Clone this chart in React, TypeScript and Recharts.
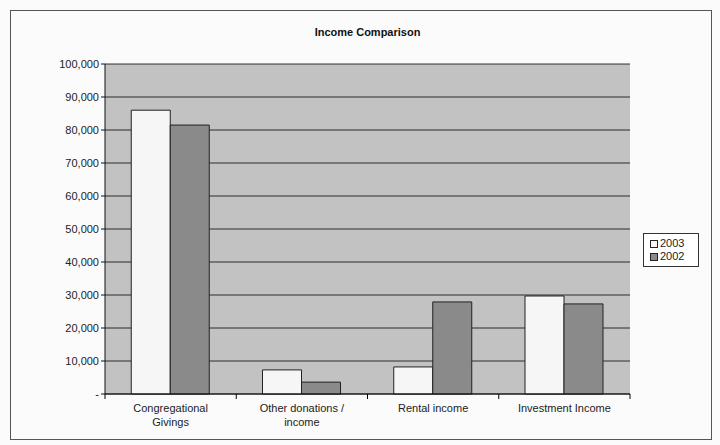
import { Bar, BarChart, CartesianGrid, XAxis, YAxis } from "recharts";

const categories = [
  "Congregational Givings",
  "Other donations / income",
  "Rental income",
  "Investment Income",
];
const values2003 = [86000, 7300, 8200, 29700];
const values2002 = [81500, 3600, 27900, 27300];
const yTicks = [0, 10000, 20000, 30000, 40000, 50000, 60000, 70000, 80000, 90000, 100000];

const data = categories.map((name, i) => ({
  name,
  y2003: values2003[i],
  y2002: values2002[i],
}));

const FONT = "'Liberation Sans', Arial, sans-serif";
const PLOT_LEFT = 105;
const PLOT_RIGHT = 630;
const BAND = (PLOT_RIGHT - PLOT_LEFT) / categories.length;

const wrap = (s: string, max: number) => {
  const words = s.split(" ");
  const lines: string[] = [];
  let cur = "";
  for (const w of words) {
    if (cur && (cur + " " + w).length > max) {
      lines.push(cur);
      cur = w;
    } else {
      cur = cur ? cur + " " + w : w;
    }
  }
  if (cur) lines.push(cur);
  return lines;
};

const CategoryTick = (props: any) => {
  const { x, y, payload, index } = props;
  const lines = wrap(payload.value, 18);
  return (
    <g>
      <line x1={x - BAND / 2} x2={x - BAND / 2} y1={y - 8} y2={y - 3} stroke="#000" />
      {index === categories.length - 1 && (
        <line x1={x + BAND / 2} x2={x + BAND / 2} y1={y - 8} y2={y - 3} stroke="#000" />
      )}
      <text x={x} y={y + 10} textAnchor="middle" fontSize={11} fill="#222" fontFamily={FONT}>
        {lines.map((l, i) => (
          <tspan key={i} x={x} dy={i === 0 ? 0 : 14}>
            {l}
          </tspan>
        ))}
      </text>
    </g>
  );
};

const LegendBox = () => (
  <div
    style={{
      position: "absolute",
      left: 643,
      top: 233,
      border: "1px solid #333",
      background: "#fff",
      padding: "3px 6px",
      fontFamily: FONT,
      fontSize: 11,
      color: "#222",
      lineHeight: "13px",
      width: 42,
    }}
  >
    {[
      { label: "2003", fill: "#f6f6f6" },
      { label: "2002", fill: "#8a8a8a" },
    ].map((it) => (
      <div key={it.label} style={{ display: "flex", alignItems: "center" }}>
        <span
          style={{
            display: "inline-block",
            width: 6,
            height: 6,
            border: "1px solid #222",
            background: it.fill,
            marginRight: 2,
          }}
        />
        {it.label}
      </div>
    ))}
  </div>
);

export default function App() {
  return (
    <div style={{ position: "absolute", left: 0, top: 0, width: 720, height: 445, background: "#fbfbfb" }}>
      <div
        style={{
          position: "absolute",
          left: 10,
          top: 10,
          width: 700,
          height: 428,
          border: "1px solid #555",
        }}
      />
      <div
        style={{
          position: "absolute",
          top: 26,
          left: PLOT_LEFT,
          width: PLOT_RIGHT - PLOT_LEFT,
          textAlign: "center",
          fontFamily: FONT,
          fontWeight: "bold",
          fontSize: 11,
          color: "#111",
        }}
      >
        Income Comparison
      </div>
      <div style={{ position: "absolute", left: 0, top: 0 }}>
        <BarChart
          width={720}
          height={445}
          data={data}
          margin={{ top: 64, right: 720 - PLOT_RIGHT, bottom: 0, left: 0 }}
          barGap={0}
          barCategoryGap="20%"
        >
          <CartesianGrid vertical={false} fill="#c2c2c2" stroke="#111" strokeOpacity={0.85} />
          <XAxis
            dataKey="name"
            interval={0}
            tickLine={false}
            axisLine={{ stroke: "#111" }}
            tick={<CategoryTick />}
            height={51}
          />
          <YAxis
            width={PLOT_LEFT}
            domain={[0, 100000]}
            ticks={yTicks}
            interval={0}
            axisLine={{ stroke: "#111" }}
            tickLine={{ stroke: "#111" }}
            tickSize={4}
            tick={{ fontSize: 11, fill: "#222", fontFamily: FONT }}
            tickFormatter={(v: number) => (v === 0 ? "-" : v.toLocaleString("en-US"))}
          />
          <Bar dataKey="y2003" name="2003" fill="#f6f6f6" stroke="#222" strokeWidth={1} isAnimationActive={false} />
          <Bar dataKey="y2002" name="2002" fill="#8a8a8a" stroke="#222" strokeWidth={1} isAnimationActive={false} />
        </BarChart>
      </div>
      <LegendBox />
    </div>
  );
}
